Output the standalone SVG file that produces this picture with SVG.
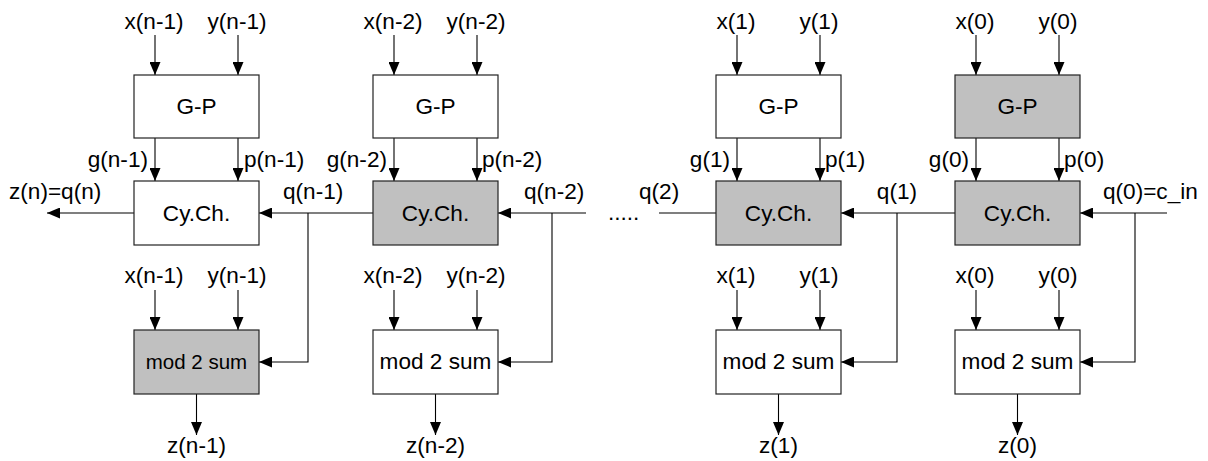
<svg xmlns="http://www.w3.org/2000/svg" width="1208" height="461" viewBox="0 0 1208 461">
<style>
text{font-family:"Liberation Sans",Arial,sans-serif;font-size:22.6px;fill:#000}
.c{text-anchor:middle}
.e{text-anchor:end}
.box{stroke:#222;stroke-width:1.2;fill:#fff}
.g{fill:#c0c0c0}
.ln{stroke:#000;stroke-width:1.1;fill:none}
.sm{font-size:20.5px}
</style>
<defs>
<marker id="ah" markerUnits="userSpaceOnUse" markerWidth="13" markerHeight="11" refX="13" refY="5.5" orient="auto">
<path d="M0,0 L13,5.5 L0,11 z" fill="#000"/>
</marker>
</defs>
<rect width="1208" height="461" fill="#fff"/>
<g id="connectors" class="ln" marker-end="url(#ah)">
<path d="M155,35V75"/><path d="M238,35V75"/>
<path d="M155,138V181"/><path d="M238,138V181"/>
<path d="M155,290V330"/><path d="M238,290V330"/>
<path d="M196.5,394V435"/>
<path d="M134,213H47"/>
<path d="M394,35V75"/><path d="M477,35V75"/>
<path d="M394,138V181"/><path d="M477,138V181"/>
<path d="M394,290V330"/><path d="M477,290V330"/>
<path d="M435.5,394V435"/>
<path d="M373,213H259"/>
<path d="M308,213V362H259"/>
<path d="M586,213H498"/>
<path d="M552,213V362H498"/>
<path d="M737,35V75"/><path d="M820,35V75"/>
<path d="M737,138V181"/><path d="M820,138V181"/>
<path d="M737,290V330"/><path d="M820,290V330"/>
<path d="M778.5,394V435"/>
<path d="M716,213H659" marker-end="none"/>
<path d="M976,35V75"/><path d="M1059,35V75"/>
<path d="M976,138V181"/><path d="M1059,138V181"/>
<path d="M976,290V330"/><path d="M1059,290V330"/>
<path d="M1017.5,394V435"/>
<path d="M955,213H841"/>
<path d="M897,213V362H841"/>
<path d="M1167,213H1080"/>
<path d="M1135,213V362H1080"/>
</g>
<g id="gp_n1"><rect class="box" x="134" y="75" width="125" height="63"/><text class="c" x="196.5" y="114">G-P</text></g>
<g id="cy_n1"><rect class="box" x="134" y="181" width="125" height="64"/><text class="c" x="196.5" y="221">Cy.Ch.</text></g>
<g id="sum_n1"><rect class="box g" x="134" y="330" width="125" height="64"/><text class="c sm" x="196.5" y="369">mod 2 sum</text></g>
<g id="gp_n2"><rect class="box" x="373" y="75" width="125" height="63"/><text class="c" x="435.5" y="114">G-P</text></g>
<g id="cy_n2"><rect class="box g" x="373" y="181" width="125" height="64"/><text class="c" x="435.5" y="221">Cy.Ch.</text></g>
<g id="sum_n2"><rect class="box" x="373" y="330" width="125" height="64"/><text class="c" x="435.5" y="369">mod 2 sum</text></g>
<g id="gp_1"><rect class="box" x="716" y="75" width="125" height="63"/><text class="c" x="778.5" y="114">G-P</text></g>
<g id="cy_1"><rect class="box g" x="716" y="181" width="125" height="64"/><text class="c" x="778.5" y="221">Cy.Ch.</text></g>
<g id="sum_1"><rect class="box" x="716" y="330" width="125" height="64"/><text class="c" x="778.5" y="369">mod 2 sum</text></g>
<g id="gp_0"><rect class="box g" x="955" y="75" width="125" height="63"/><text class="c" x="1017.5" y="114">G-P</text></g>
<g id="cy_0"><rect class="box g" x="955" y="181" width="125" height="64"/><text class="c" x="1017.5" y="221">Cy.Ch.</text></g>
<g id="sum_0"><rect class="box" x="955" y="330" width="125" height="64"/><text class="c" x="1017.5" y="369">mod 2 sum</text></g>
<g id="labels">
<text class="c" x="154" y="29">x(n-1)</text><text class="c" x="237" y="29">y(n-1)</text>
<text class="c" x="393" y="29">x(n-2)</text><text class="c" x="476" y="29">y(n-2)</text>
<text class="c" x="736" y="29">x(1)</text><text class="c" x="819" y="29">y(1)</text>
<text class="c" x="975" y="29">x(0)</text><text class="c" x="1058" y="29">y(0)</text>
<text class="e" x="148" y="167">g(n-1)</text><text x="244" y="167">p(n-1)</text>
<text class="e" x="387" y="167">g(n-2)</text><text x="482" y="167">p(n-2)</text>
<text class="e" x="730" y="167">g(1)</text><text x="825" y="167">p(1)</text>
<text class="e" x="969" y="167">g(0)</text><text x="1064" y="167">p(0)</text>
<text x="9" y="199">z(n)=q(n)</text>
<text x="283" y="199">q(n-1)</text>
<text x="524" y="199">q(n-2)</text>
<text x="608" y="220">.....</text>
<text x="639" y="199">q(2)</text>
<text class="e" x="917" y="199">q(1)</text>
<text x="1103" y="199">q(0)=c_in</text>
<text class="c" x="154" y="283">x(n-1)</text><text class="c" x="237" y="283">y(n-1)</text>
<text class="c" x="393" y="283">x(n-2)</text><text class="c" x="476" y="283">y(n-2)</text>
<text class="c" x="736" y="283">x(1)</text><text class="c" x="819" y="283">y(1)</text>
<text class="c" x="975" y="283">x(0)</text><text class="c" x="1058" y="283">y(0)</text>
<text class="c" x="196.5" y="453">z(n-1)</text>
<text class="c" x="435.5" y="453">z(n-2)</text>
<text class="c" x="778.5" y="453">z(1)</text>
<text class="c" x="1017.5" y="453">z(0)</text>
</g>
</svg>
